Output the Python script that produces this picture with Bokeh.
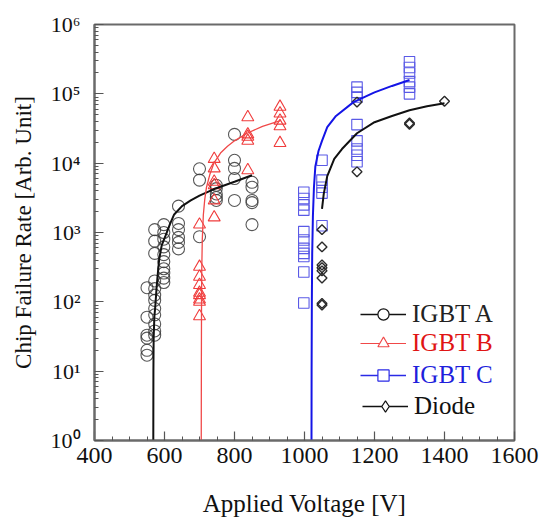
import numpy as np
from bokeh.plotting import figure
from bokeh.models import FixedTicker, Legend, LegendItem, ColumnDataSource, Title
from bokeh.embed import file_html
from bokeh.resources import INLINE

# ---------------- data ----------------
igbt_a_v = [550, 550, 550, 550, 550, 550,
            572, 572, 572, 572, 572, 572, 572, 572, 572, 572, 572, 572,
            598, 598, 598, 598, 598, 598, 598, 598, 598, 598,
            640, 640, 640, 640, 640, 640,
            700, 700, 700,
            748, 748, 748, 748, 748,
            800, 800, 800, 800, 800,
            850, 850, 850, 850, 850]
igbt_a_r = [160, 60, 33, 30, 20, 17,
            1100, 750, 500, 200, 155, 125, 105, 80, 65, 48, 38, 33,
            1300, 1000, 800, 620, 480, 380, 300, 260, 220, 190,
            2400, 1350, 1100, 850, 720, 580,
            8300, 5700, 870,
            4800, 4300, 3600, 3200, 2900,
            26000, 11000, 8400, 6000, 2900,
            5300, 4500, 2900, 2700, 1300]

igbt_b_v = [700, 700, 700, 700, 700, 700, 700, 700, 700,
            742, 742, 742, 742, 742, 742,
            838, 838, 838, 838, 838,
            930, 930, 930, 930, 930]
igbt_b_r = [1300, 320, 230, 175, 135, 125, 108, 100, 62,
            11500, 8400, 5400, 4800, 2900, 1650,
            46000, 26000, 24000, 21000, 7900,
            65000, 52000, 41000, 34000, 19500]

igbt_c_v = [998, 998, 998, 998, 998, 998, 998, 998, 998, 998, 998,
            1050, 1050, 1050, 1050, 1050,
            1150, 1150, 1150, 1150, 1150, 1150, 1150, 1150,
            1300, 1300, 1300, 1300, 1300, 1300]
igbt_c_r = [3800, 3100, 2500, 2100, 1030, 780, 590, 500, 450, 270, 96,
            11000, 5700, 4500, 3700, 1250,
            125000, 105000, 90000, 36000, 21000, 16000, 13000, 10500,
            290000, 240000, 200000, 150000, 125000, 100000]

diode_v = [1050, 1050, 1050, 1050, 1050, 1050, 1050, 1050,
           1150, 1150, 1300, 1300, 1400]
diode_r = [1100, 620, 340, 310, 280, 220, 95, 90,
           76000, 7500, 38000, 36500, 78000]

# fitted curves
fit_a_v = [568, 568.3, 569, 571, 574, 577, 580, 585, 592, 603, 615, 627, 650, 675, 700, 740, 800, 850]
fit_a_r = [1, 10, 30, 60, 90, 150, 230, 420, 650, 900, 1300, 1800, 2400, 2900, 3400, 4200, 5400, 6700]

fit_b_v = [705, 705.3, 705.8, 706.5, 708, 711, 715, 720, 730, 741, 760, 780, 800, 836, 880, 931]
fit_b_r = [1, 10, 100, 300, 800, 1800, 3000, 4500, 7000, 10000, 14000, 17500, 21000, 27000, 34000, 41000]

fit_c_v = [1020, 1020.3, 1021, 1022, 1024, 1027, 1031, 1040, 1050, 1065, 1090, 1140, 1200, 1250, 1300]
fit_c_r = [1, 10, 100, 500, 1700, 4500, 9000, 15000, 21000, 33000, 48000, 76000, 105000, 130000, 158000]

fit_d_v = [1050, 1055, 1065, 1085, 1107, 1150, 1200, 1250, 1300, 1350, 1400]
fit_d_r = [2200, 3600, 6500, 11500, 16000, 27000, 39000, 48000, 58000, 66000, 73000]

x_ticks = [400, 600, 800, 1000, 1200, 1400, 1600]
x_minor = [450, 500, 550, 650, 700, 750, 850, 900, 950, 1050, 1100, 1150,
           1250, 1300, 1350, 1450, 1500, 1550]
y_ticks = [1, 10, 100, 1000, 10000, 100000, 1000000]
y_tick_labels = ["10\u2070", "10\u00b9", "10\u00b2", "10\u00b3", "10\u2074", "10\u2075", "10\u2076"]

series_names = ["IGBT A", "IGBT B", "IGBT C", "Diode"]
x_title = "Applied Voltage [V]"
y_title = "Chip Failure Rate [Arb. Unit]"

# ---------------- figure ----------------
FONT = "Liberation Serif"
p = figure(width=540, height=519, x_range=(400, 1600), y_range=(1, 1e6),
           y_axis_type="log", output_backend="svg", toolbar_location=None,
           min_border_left=94, min_border_right=26, min_border_top=24,
           min_border_bottom=78)
p.grid.visible = False
p.background_fill_color = "white"
p.border_fill_color = "white"
p.outline_line_color = "#6a6a6a"
p.outline_line_width = 2

y_minor = []
for k in range(6):
    for m in range(2, 10):
        y_minor.append(m * 10 ** k)

p.xaxis.ticker = FixedTicker(ticks=x_ticks, minor_ticks=x_minor)
p.yaxis.ticker = FixedTicker(ticks=y_ticks, minor_ticks=y_minor)
p.yaxis.major_label_overrides = {t: s for t, s in zip(y_ticks, y_tick_labels)}

for ax in (p.xaxis, p.yaxis):
    ax.axis_line_color = "#6a6a6a"
    ax.axis_line_width = 2
    ax.major_tick_in = 9
    ax.major_tick_out = 0
    ax.minor_tick_in = 4
    ax.minor_tick_out = 0
    ax.major_tick_line_color = "#555555"
    ax.minor_tick_line_color = "#555555"
    ax.major_tick_line_width = 1.2
    ax.minor_tick_line_width = 1
    ax.major_label_text_font = FONT
    ax.major_label_text_color = "#111111"
    ax.axis_label_text_font = FONT
    ax.axis_label_text_font_style = "normal"
    ax.axis_label_text_font_size = "25px"
    ax.axis_label_text_color = "#111111"

p.xaxis.major_label_text_font_size = "24px"
p.yaxis.major_label_text_font_size = "22px"
p.xaxis.major_label_standoff = 7
p.yaxis.major_label_standoff = 14
p.xaxis.axis_label = x_title
p.xaxis.axis_label_standoff = 24

# y title as a side title (reference is shifted upward from the axis centre)
ytitle = Title(text=y_title, align="center", offset=17, vertical_align="top",
               text_font=FONT, text_font_size="23px", text_font_style="normal",
               text_color="#111111")
if "standoff" in Title.properties():
    ytitle.standoff = 20
p.add_layout(ytitle, "left")

# colours
c_a = "#3a3a3a"
c_b = "#f03c3c"
c_c = "#5a5ae6"
c_d = "#2a2a2a"

# scatter markers
p.scatter(igbt_a_v, igbt_a_r, marker="circle", size=12, fill_color=None,
          line_color=c_a, line_width=1.1, line_alpha=0.85)
p.scatter(igbt_b_v, igbt_b_r, marker="triangle", size=12, fill_color=None,
          line_color=c_b, line_width=1.1)
p.scatter(igbt_c_v, igbt_c_r, marker="square", size=10.5, fill_color=None,
          line_color=c_c, line_width=1.1)
p.scatter(diode_v, diode_r, marker="square", angle=np.pi / 4, size=7, fill_color=None,
          line_color=c_d, line_width=1.4)

# fitted curves
p.line(fit_a_v, fit_a_r, line_color="#111111", line_width=2)
p.line(fit_b_v, fit_b_r, line_color="#f04848", line_width=1.3)
p.line(fit_c_v, fit_c_r, line_color="#1414e6", line_width=2)
p.line(fit_d_v, fit_d_r, line_color="#111111", line_width=2)

# legend (one legend per entry so the label colours can differ)
legend_specs = [
    (series_names[0], "circle", 7, "#111111", "#222222", 1.5),
    (series_names[1], "triangle", 8, "#f04848", "#e01414", 1.2),
    (series_names[2], "square", 8, "#2a2ae6", "#1f1fdc", 1.5),
    (series_names[3], "diamond", 9, "#111111", "#111111", 1.5),
]
legend_locs = [(266, 112), (266, 83), (266, 51), (268, 20)]
for (name, mk, sz, lc, tc, lw), loc in zip(legend_specs, legend_locs):
    src = ColumnDataSource(data=dict(x=[np.nan], y=[np.nan]))
    lr = p.line("x", "y", source=src, line_color=lc, line_width=lw)
    sr = p.scatter("x", "y", source=src, marker=mk, size=sz,
                   fill_color="white", line_color=lc, line_width=1.2)
    leg = Legend(items=[LegendItem(label=name, renderers=[lr, sr])],
                 location=loc, margin=0, padding=0, spacing=0,
                 glyph_width=46, glyph_height=28, label_height=28,
                 label_standoff=6,
                 label_text_font=FONT, label_text_font_size="25px",
                 label_text_color=tc,
                 background_fill_alpha=0, border_line_alpha=0)
    p.add_layout(leg, "center")

open("out.html", "w").write(file_html(p, INLINE))
